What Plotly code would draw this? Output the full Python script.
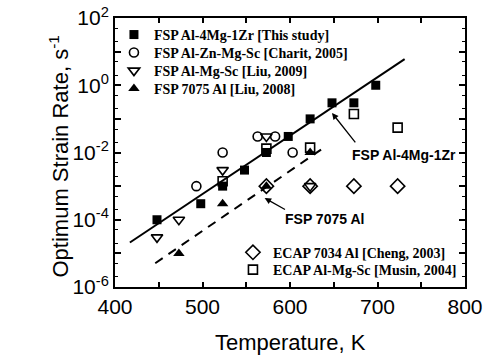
import plotly.graph_objects as go
import math

# ---- data ----
al4mg_T = [448, 498, 523, 548, 573, 598, 623, 648, 673, 698]
al4mg_rate = [1e-4, 3e-4, 1e-3, 3e-3, 1e-2, 3e-2, 1e-1, 3e-1, 3e-1, 1.0]

charit_T = [493, 523, 563, 583, 603]
charit_rate = [1e-3, 1e-2, 3e-2, 3e-2, 1e-2]

liu09_T = [448, 473, 523, 573, 623]
liu09_rate = [3e-5, 1e-4, 3e-3, 3e-2, 1e-3]

liu08_T = [473, 523, 573, 623]
liu08_rate = [1e-5, 3e-4, 1e-3, 1e-2]

cheng_T = [573, 623, 673, 723]
cheng_rate = [1e-3, 1e-3, 1e-3, 1e-3]

musin_T = [523, 573, 623, 673, 723]
musin_rate = [1.4e-3, 1.3e-2, 1.4e-2, 1.4e-1, 5.5e-2]

fit_T = [417, 731]
fit_rate = [2.1e-5, 6.0]
fit7075_T = [446, 638]
fit7075_rate = [5.1e-6, 1.35e-2]

x_ticks = [400, 500, 600, 700, 800]
y_ticks = [1e-6, 1e-5, 1e-4, 1e-3, 1e-2, 1e-1, 1e0, 1e1, 1e2]
y_ticktext = ["10<sup>-6</sup>", "", "10<sup>-4</sup>", "", "10<sup>-2</sup>", "",
              "10<sup>0</sup>", "", "10<sup>2</sup>"]

fig = go.Figure()

fig.add_trace(go.Scatter(x=fit_T, y=fit_rate, mode="lines",
                         line=dict(color="black", width=2), showlegend=False))
fig.add_trace(go.Scatter(x=fit7075_T, y=fit7075_rate, mode="lines",
                         line=dict(color="black", width=2, dash="9px,7px"), showlegend=False))

mk_line = dict(color="black", width=1.6)
fig.add_trace(go.Scatter(x=al4mg_T, y=al4mg_rate, mode="markers",
                         name="FSP Al-4Mg-1Zr [This study]",
                         marker=dict(symbol="square", size=9, color="black"), legend="legend"))
fig.add_trace(go.Scatter(x=charit_T, y=charit_rate, mode="markers",
                         name="FSP Al-Zn-Mg-Sc [Charit, 2005]",
                         marker=dict(symbol="circle-open", size=9, color="black", line=mk_line), legend="legend2"))
fig.add_trace(go.Scatter(x=liu09_T, y=liu09_rate, mode="markers",
                         name="FSP Al-Mg-Sc [Liu, 2009]",
                         marker=dict(symbol="triangle-down-open", size=10, color="black", line=mk_line), legend="legend3"))
fig.add_trace(go.Scatter(x=liu08_T, y=liu08_rate, mode="markers",
                         name="FSP 7075 Al [Liu, 2008]",
                         marker=dict(symbol="triangle-up", size=10, color="black"), legend="legend4"))
fig.add_trace(go.Scatter(x=cheng_T, y=cheng_rate, mode="markers",
                         name="ECAP 7034 Al [Cheng, 2003]",
                         marker=dict(symbol="diamond-open", size=11, color="black", line=mk_line), legend="legend5"))
fig.add_trace(go.Scatter(x=musin_T, y=musin_rate, mode="markers",
                         name="ECAP Al-Mg-Sc [Musin, 2004]",
                         marker=dict(symbol="square-open", size=9, color="black", line=mk_line), legend="legend6"))

legend_font = dict(family="Liberation Serif, Times New Roman, serif", size=14, color="black", weight="bold")


def leg(x, y):
    return dict(x=x, y=y, xanchor="left", yanchor="middle", bgcolor="rgba(0,0,0,0)",
                font=legend_font, tracegroupgap=0)


fig.update_layout(
    width=500, height=360,
    margin=dict(l=115, r=35, t=18, b=73, autoexpand=False),
    paper_bgcolor="white", plot_bgcolor="white",
    font=dict(family="Liberation Sans, Arial, sans-serif", color="black"),
    legend=leg(-0.003, 0.937),
    legend2=leg(-0.003, 0.870),
    legend3=leg(-0.003, 0.803),
    legend4=leg(-0.003, 0.736),
    legend5=leg(0.337, 0.1275),
    legend6=leg(0.337, 0.0632),
    xaxis=dict(range=[400, 800], tickvals=x_ticks, ticks="inside", ticklen=5, tickwidth=1.5,
               tickcolor="black", showline=True, linecolor="black", linewidth=2, mirror="ticks",
               showgrid=False, zeroline=False, tickfont=dict(size=21), automargin=False,
               ticklabeloverflow="allow",
               minor=dict(dtick=50, ticks="inside", ticklen=5, tickwidth=1.5, tickcolor="black", showgrid=False)),
    yaxis=dict(type="log", range=[-6, 2], tickvals=y_ticks, ticktext=y_ticktext,
               ticks="inside", ticklen=6, tickwidth=1.5, tickcolor="black",
               showline=True, linecolor="black", linewidth=2, mirror="ticks",
               showgrid=False, zeroline=False, tickfont=dict(size=21), automargin=False,
               ticklabeloverflow="allow",
               minor=dict(ticks="inside", ticklen=3, tickwidth=1, tickcolor="black", showgrid=False)),
)

# axis titles
fig.add_annotation(xref="paper", yref="paper", x=0.5, y=0, yshift=-55, xanchor="center", yanchor="middle",
                   text="Temperature, K", showarrow=False, font=dict(size=22))
fig.add_annotation(xref="paper", yref="paper", x=0, y=0.5, xshift=-57, yshift=-4, xanchor="center",
                   yanchor="middle", textangle=-90,
                   text="Optimum Strain Rate, s<sup>-1</sup>", showarrow=False, font=dict(size=22))

ann_font = dict(family="Liberation Sans, Arial, sans-serif", size=14, color="black", weight="bold")
fig.add_annotation(x=730, y=math.log10(8.5e-3), text="FSP Al-4Mg-1Zr", showarrow=False, font=ann_font)
fig.add_annotation(x=639, y=math.log10(1.05e-4), text="FSP 7075 Al", showarrow=False, font=ann_font)
fig.add_annotation(x=648, y=math.log10(0.15), ax=676, ay=math.log10(1.8e-2), axref="x", ayref="y",
                   text="", showarrow=True, arrowhead=2, arrowsize=1, arrowwidth=1.3, arrowcolor="black")
fig.add_annotation(x=571, y=math.log10(4.4e-4), ax=596, ay=math.log10(1.9e-4), axref="x", ayref="y",
                   text="", showarrow=True, arrowhead=2, arrowsize=1, arrowwidth=1.3, arrowcolor="black")

fig.write_html("out.html", config={"displayModeBar": False},
               post_script="document.body.style.margin='0';")
